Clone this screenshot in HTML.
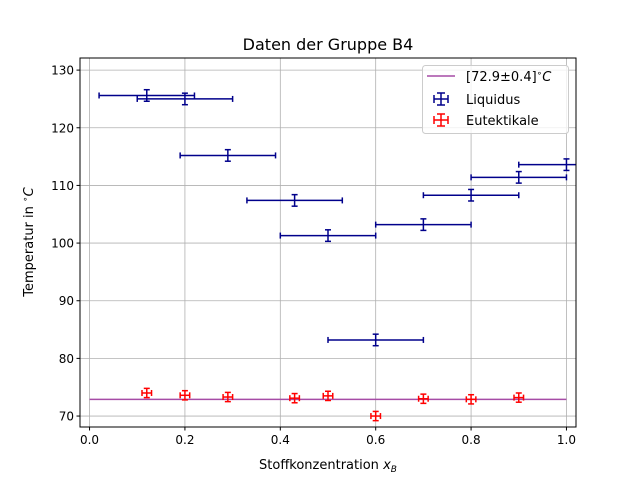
<!DOCTYPE html>
<html><head><meta charset="utf-8"><style>
body{margin:0;background:#fff;}
svg{display:block;font-family:"DejaVu Sans","Liberation Sans",sans-serif;}
</style></head><body>
<svg id="chart" width="640" height="480">
<rect width="640" height="480" fill="#fff"/>
<g id="grid"></g>
<g id="marks"></g>
<rect x="80" y="58" width="496" height="369" fill="none" stroke="#000" stroke-width="1"/>
<g id="axes"></g>
<text x="328" y="50" font-size="16" text-anchor="middle">Daten der Gruppe B4</text>
<text x="328" y="469" font-size="13" text-anchor="middle">Stoffkonzentration <tspan font-style="italic">x</tspan><tspan font-style="italic" font-size="9" dy="3">B</tspan></text>
<text transform="translate(33,242) rotate(-90)" font-size="13" text-anchor="middle">Temperatur in <tspan font-size="9" dy="-5">∘</tspan><tspan dy="5" font-style="italic">C</tspan></text>
<g>
<rect x="422.5" y="65.5" width="146" height="68" rx="3" fill="#fff" fill-opacity="0.8" stroke="#ccc"/>
<line x1="427" y1="76" x2="455" y2="76" stroke="#a64ca6" stroke-width="1.5"/>
<text x="466" y="81" font-size="13">[72.9±0.4]<tspan font-size="9" dy="-5">∘</tspan><tspan dy="5" font-style="italic">C</tspan></text>
<g stroke="#00008b" stroke-width="1.5"><line x1="434" y1="99" x2="448" y2="99"/><line x1="441" y1="93" x2="441" y2="105"/><line x1="434" y1="95" x2="434" y2="103"/><line x1="448" y1="95" x2="448" y2="103"/><line x1="437" y1="93" x2="445" y2="93"/><line x1="437" y1="105" x2="445" y2="105"/></g>
<text x="466" y="104" font-size="13">Liquidus</text>
<g stroke="#ff0000" stroke-width="1.5"><line x1="434" y1="120" x2="448" y2="120"/><line x1="441" y1="114" x2="441" y2="126"/><line x1="434" y1="116" x2="434" y2="124"/><line x1="448" y1="116" x2="448" y2="124"/><line x1="437" y1="114" x2="445" y2="114"/><line x1="437" y1="126" x2="445" y2="126"/></g>
<text x="466" y="125" font-size="13">Eutektikale</text>
</g>
</svg>
<script>
const xTicks=[0.0,0.2,0.4,0.6,0.8,1.0];
const xTickLabels=["0.0","0.2","0.4","0.6","0.8","1.0"];
const yTicks=[70,80,90,100,110,120,130];
const liqX=[0.12,0.2,0.29,0.43,0.5,0.6,0.7,0.8,0.9,1.0];
const liqY=[125.6,125.0,115.2,107.4,101.3,83.2,103.2,108.3,111.4,113.6];
const liqXErr=[0.1,0.1,0.1,0.1,0.1,0.1,0.1,0.1,0.1,0.1];
const liqYErr=[1,1,1,1,1,1,1,1,1,1];
const eutX=[0.12,0.2,0.29,0.43,0.5,0.6,0.7,0.8,0.9];
const eutY=[74.0,73.6,73.3,73.1,73.5,70.0,73.0,72.9,73.2];
const eutXErr=[0.01,0.01,0.01,0.01,0.01,0.01,0.01,0.01,0.01];
const eutYErr=[0.8,0.8,0.8,0.8,0.8,0.8,0.8,0.8,0.8];
const fitValue=72.9;
const fitRange=[0,1];
const L=80,R=576,T=58,B=427,xmin=-0.02,xmax=1.02,ymin=68.1,ymax=132.1;
const sx=v=>L+(v-xmin)/(xmax-xmin)*(R-L);
const sy=v=>B-(v-ymin)/(ymax-ymin)*(B-T);
const NS="http://www.w3.org/2000/svg";
function mk(tag,attrs,parent){const e=document.createElementNS(NS,tag);for(const k in attrs)e.setAttribute(k,attrs[k]);parent.appendChild(e);return e;}
const grid=document.getElementById('grid'),axes=document.getElementById('axes'),marks=document.getElementById('marks');
xTicks.forEach((t,i)=>{const x=sx(t);
 const g=mk('line',{x1:x,y1:T,x2:x,y2:B,stroke:'#b0b0b0','stroke-width':0.8},grid);
 
 
 mk('line',{x1:x,y1:B,x2:x,y2:B+3.5,stroke:'#000'},axes);
 const tx=mk('text',{x:x,y:B+17,'font-size':12,'text-anchor':'middle'},axes);tx.textContent=xTickLabels[i];
 
 
});
yTicks.forEach(t=>{const y=sy(t);
 const g=mk('line',{x1:L,y1:y,x2:R,y2:y,stroke:'#b0b0b0','stroke-width':0.8},grid);
 
 
 mk('line',{x1:L-3.5,y1:y,x2:L,y2:y,stroke:'#000'},axes);
 const tx=mk('text',{x:L-6,y:y+4.5,'font-size':12,'text-anchor':'end'},axes);tx.textContent=t;
 
 
});
const fl=mk('line',{x1:sx(fitRange[0]),y1:sy(fitValue),x2:sx(fitRange[1]),y2:sy(fitValue),stroke:'#a64ca6','stroke-width':1.5},marks);


const clip=mk('clipPath',{id:'pc'},marks);mk('rect',{x:L,y:T,width:R-L,height:B-T},clip);
function eb(xs,ys,xe,ye,col,name){
 xs.forEach((xv,i)=>{const g=mk('g',{stroke:col,'stroke-width':1.5,'clip-path':'url(#pc)'},marks);
  
  
  const x=sx(xv),y=sy(ys[i]),x0=sx(xv-xe[i]),x1=sx(xv+xe[i]),y0=sy(ys[i]-ye[i]),y1=sy(ys[i]+ye[i]);
  mk('line',{x1:x0,y1:y,x2:x1,y2:y},g);mk('line',{x1:x,y1:y0,x2:x,y2:y1},g);
  mk('line',{x1:x0,y1:y-3,x2:x0,y2:y+3},g);mk('line',{x1:x1,y1:y-3,x2:x1,y2:y+3},g);
  mk('line',{x1:x-3,y1:y0,x2:x+3,y2:y0},g);mk('line',{x1:x-3,y1:y1,x2:x+3,y2:y1},g);
 });
}
eb(liqX,liqY,liqXErr,liqYErr,'#00008b','liquidus-point');
eb(eutX,eutY,eutXErr,eutYErr,'#ff0000','eutektikale-point');
</script>
</body></html>
